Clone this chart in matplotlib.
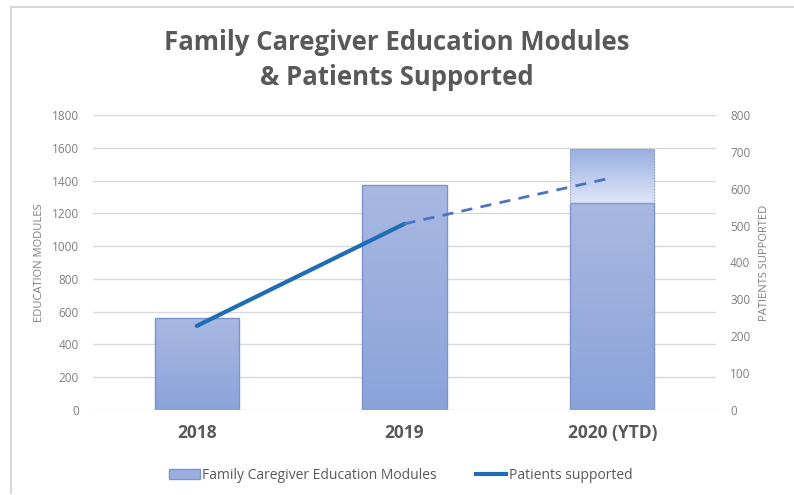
import matplotlib
matplotlib.use("Agg")
import matplotlib.pyplot as plt
import numpy as np
from matplotlib.patches import Rectangle
from matplotlib.lines import Line2D
from matplotlib.colors import LinearSegmentedColormap

categories = ["2018", "2019", "2020 (YTD)"]
modules = [560, 1375, 1260]
modules_projected = [None, None, 1590]
patients = [228, 505, 630]
left_ticks = [0, 200, 400, 600, 800, 1000, 1200, 1400, 1600, 1800]
right_ticks = [0, 100, 200, 300, 400, 500, 600, 700, 800]

plt.rcParams['font.family'] = ['Open Sans', 'DejaVu Sans']
gray = "#595959"

fig = plt.figure(figsize=(7.94, 4.95), dpi=100)
ax = fig.add_axes([0.117, 0.1717, 0.785, 0.596])
ax2 = ax.twinx()
ax.set_zorder(1)
ax2.set_zorder(2)
ax.patch.set_visible(False)

x = np.arange(len(categories))
width = 0.405

bar_cmap = LinearSegmentedColormap.from_list("b", ["#8ba3da", "#a9b8e2"])
proj_cmap = LinearSegmentedColormap.from_list("p", ["#dfe6f7", "#97ade2"])
grad = np.linspace(0, 1, 256).reshape(-1, 1)

bars = ax.bar(x, modules, width, color="none", edgecolor="#7d93cb", linewidth=1.0,
              zorder=3, label="Family Caregiver Education Modules")
for rect in bars:
    x0, y0 = rect.get_x(), rect.get_y()
    w, h = rect.get_width(), rect.get_height()
    im = ax.imshow(grad, cmap=bar_cmap, origin="lower", aspect="auto",
                   extent=[x0, x0 + w, y0, y0 + h], zorder=2)
    im.set_clip_path(rect)

for i, (base, top) in enumerate(zip(modules, modules_projected)):
    if top is None:
        continue
    r = Rectangle((x[i] - width / 2, base), width, top - base, facecolor="none",
                  edgecolor="#9aa6c4", linestyle=(0, (1, 1)), linewidth=1.0, zorder=3)
    ax.add_patch(r)
    im = ax.imshow(grad, cmap=proj_cmap, origin="lower", aspect="auto",
                   extent=[x[i] - width / 2, x[i] + width / 2, base, top], zorder=2)
    im.set_clip_path(r)

ax.set_xlim(-0.5, 2.5)
ax.set_ylim(0, 1800)
ax.set_yticks(left_ticks)
ax.set_yticklabels([str(t) for t in left_ticks])
ax.grid(axis="y", color="#d9d9d9", linewidth=1.0, zorder=0)
ax.set_axisbelow(True)
ax.set_xticks(x)
ax.set_xticklabels(categories, fontsize=12.5, fontweight="bold", color=gray)
ax.tick_params(axis="x", length=0, pad=10)
ax.tick_params(axis="y", length=0, labelsize=8.5, labelcolor="#7f7f7f", pad=10)
for s in ax.spines.values():
    s.set_visible(False)
ax.set_ylabel("EDUCATION MODULES", fontsize=8, color="#7f7f7f", labelpad=5)

ax2.plot(x[:2], patients[:2], color="#1f6db5", linewidth=3, solid_capstyle="round", zorder=4)
ax2.plot(x[1:], patients[1:], color="#4d74c2", linewidth=2, linestyle=(0, (4, 3)), zorder=4)
ax2.set_ylim(0, 800)
ax2.set_yticks(right_ticks)
ax2.set_yticklabels([str(t) for t in right_ticks])
ax2.tick_params(axis="y", length=0, labelsize=8.5, labelcolor="#7f7f7f", pad=10)
for s in ax2.spines.values():
    s.set_visible(False)
ax2.set_ylabel("PATIENTS SUPPORTED", fontsize=8, color="#7f7f7f", labelpad=6)

fig.text(0.5, 0.915, "Family Caregiver Education Modules", ha="center", va="center",
         fontsize=18.5, fontweight="bold", color=gray)
fig.text(0.5, 0.843, "& Patients Supported", ha="center", va="center",
         fontsize=18.5, fontweight="bold", color=gray)

handles = [Rectangle((0, 0), 1, 1, facecolor="#9aaee0", edgecolor="#7d93cb"),
           Line2D([0], [0], color="#1f6db5", linewidth=3)]
fig.legend(handles, ["Family Caregiver Education Modules", "Patients supported"],
           loc="center", bbox_to_anchor=(0.505, 0.04), ncol=2, frameon=False,
           fontsize=10, labelcolor=gray, handlelength=2.2, handletextpad=0.2,
           columnspacing=2.8)

fig.add_artist(Line2D([0.014, 0.014], [0.004, 0.986], color="#d0d0d0", linewidth=1.2))
fig.add_artist(Line2D([0.014, 1.0], [0.986, 0.986], color="#d0d0d0", linewidth=1.2))

fig.savefig("out.png", dpi=100)
